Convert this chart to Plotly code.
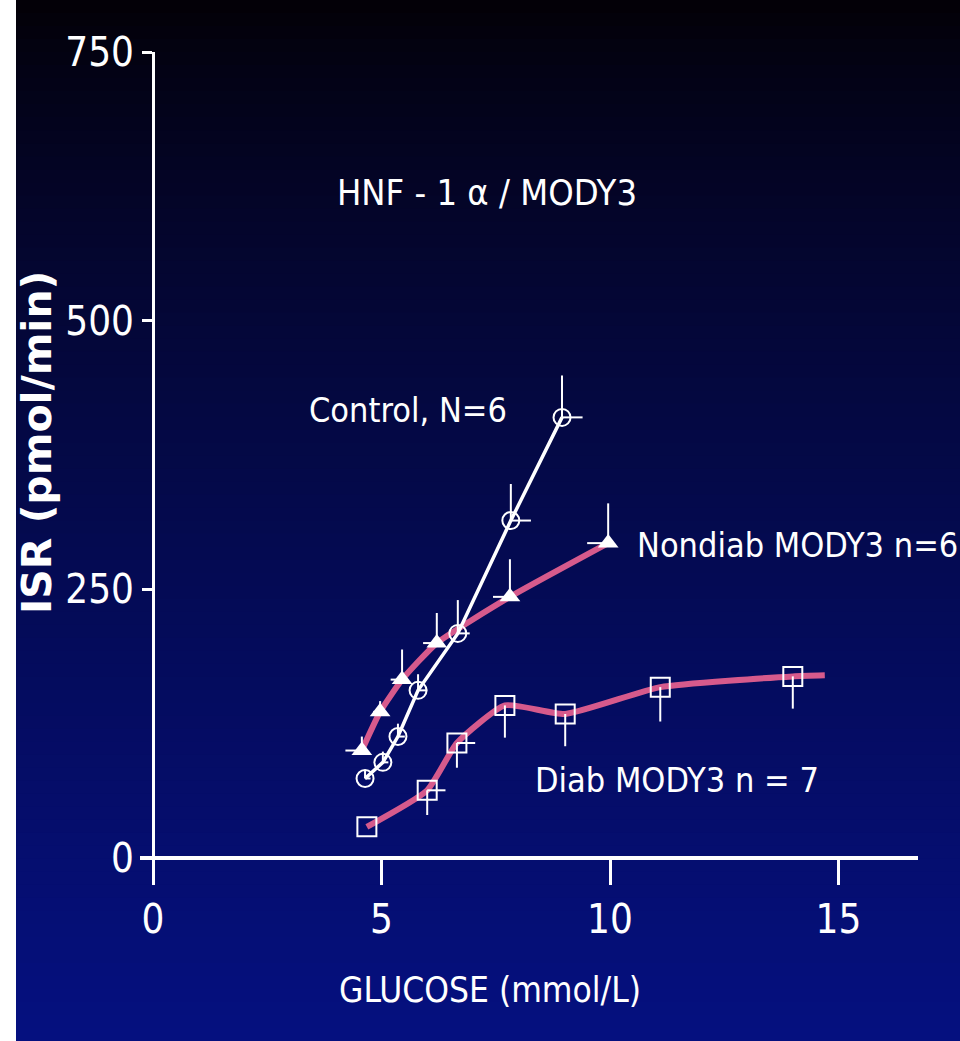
import plotly.graph_objects as go

# ---------------- data ----------------
control_x = [4.64, 5.03, 5.36, 5.80, 6.67, 7.83, 8.95]
control_y = [74, 89, 113, 156, 209, 314, 410]
control_err_up = [8, 10, 12, 15, 31, 34, 39]
control_err_right = [0.12, 0.12, 0.15, 0.20, 0.26, 0.44, 0.45]

nondiab_x = [4.57, 4.97, 5.45, 6.21, 7.81, 9.96]
nondiab_y = [100, 136, 166, 200, 243, 293]
nondiab_err_up = [13, 10, 28, 28, 35, 37]
nondiab_err_left = [0.36, 0.15, 0.25, 0.30, 0.37, 0.46]

diab_x = [4.68, 6.00, 6.65, 7.70, 9.02, 11.10, 14.00]
diab_y = [29, 63, 107, 142, 134, 159, 169]
diab_err_down = [0, 23, 23, 30, 30, 32, 30]
diab_err_right = [0, 0.40, 0.40, 0, 0, 0, 0]
diab_curve_end_x = [14.7]
diab_curve_end_y = [170]

x_ticks = [0, 5, 10, 15]
y_ticks = [0, 250, 500, 750]

title_text = "HNF - 1 \u03b1 / MODY3"
label_control = "Control, N=6"
label_nondiab = "Nondiab MODY3 n=6"
label_diab = "Diab MODY3 n = 7"
x_title = "GLUCOSE (mmol/L)"
y_title = "ISR (pmol/min)"

# ---------------- styling ----------------
W, H = 960, 1041
NARROW = "DejaVu Sans Condensed, Liberation Sans Narrow, sans-serif"
PINK = "#d65a8c"
WHITE = "#ffffff"

fig = go.Figure()

# pink lines (drawn first, below control)
fig.add_trace(go.Scatter(
    x=diab_x + diab_curve_end_x, y=diab_y + diab_curve_end_y,
    mode="lines", line=dict(color=PINK, width=6, shape="spline", smoothing=0.5),
    hoverinfo="skip", showlegend=False))
fig.add_trace(go.Scatter(
    x=nondiab_x, y=nondiab_y,
    mode="lines", line=dict(color=PINK, width=6, shape="spline", smoothing=0.5),
    hoverinfo="skip", showlegend=False))

# control line + open circles
fig.add_trace(go.Scatter(
    x=control_x, y=control_y, mode="lines+markers",
    line=dict(color=WHITE, width=3.5),
    marker=dict(symbol="circle-open", size=17, color=WHITE, line=dict(width=2, color=WHITE)),
    error_y=dict(type="data", symmetric=False, array=control_err_up,
                 arrayminus=[0] * len(control_y), color=WHITE, thickness=2, width=0),
    error_x=dict(type="data", symmetric=False, array=control_err_right,
                 arrayminus=[0] * len(control_x), color=WHITE, thickness=2, width=0),
    showlegend=False))

# nondiab triangles
fig.add_trace(go.Scatter(
    x=nondiab_x, y=nondiab_y, mode="markers",
    marker=dict(symbol="triangle-up", size=18, color=WHITE, line=dict(width=0)),
    error_y=dict(type="data", symmetric=False, array=nondiab_err_up,
                 arrayminus=[0] * len(nondiab_y), color=WHITE, thickness=2, width=0),
    error_x=dict(type="data", symmetric=False, array=[0] * len(nondiab_x),
                 arrayminus=nondiab_err_left, color=WHITE, thickness=2, width=0),
    showlegend=False))

# diab open squares
fig.add_trace(go.Scatter(
    x=diab_x, y=diab_y, mode="markers",
    marker=dict(symbol="square-open", size=19, color=WHITE, line=dict(width=2, color=WHITE)),
    error_y=dict(type="data", symmetric=False, array=[0] * len(diab_y),
                 arrayminus=diab_err_down, color=WHITE, thickness=2, width=0),
    error_x=dict(type="data", symmetric=False, array=diab_err_right,
                 arrayminus=[0] * len(diab_x), color=WHITE, thickness=2, width=0),
    showlegend=False))

# ---------------- background gradient (black top -> dark blue bottom) ----------------
shapes = []
N = 80
top = (3, 0, 4)
bot = (5, 16, 128)
for i in range(N):
    s = 1 - (i + 0.5) / N  # 0 at top, 1 at bottom
    f = s ** 0.75
    c = tuple(int(round(top[k] + (bot[k] - top[k]) * f)) for k in range(3))
    shapes.append(dict(type="rect", xref="paper", yref="paper",
                       x0=0, x1=1, y0=i / N, y1=(i + 1) / N + 0.002,
                       fillcolor="rgb(%d,%d,%d)" % c, line=dict(width=0), layer="below"))
# white strip at the left edge
shapes.append(dict(type="rect", xref="paper", yref="paper", x0=0, x1=16 / W, y0=0, y1=1,
                   fillcolor="white", line=dict(width=0), layer="below"))

# ---------------- axes ----------------
px_x0, px_per_x = 153, 45.7
px_y0, px_per_y = 858, 1.0747
dom_x = [140 / W, 918 / W]
dom_y = [(H - 870) / H, (H - 52) / H]
x_range = [(140 - px_x0) / px_per_x, (918 - px_x0) / px_per_x]
y_range = [-(870 - px_y0) / px_per_y, 750]

fig.update_layout(
    width=W, height=H,
    margin=dict(l=0, r=0, t=0, b=0, pad=0, autoexpand=False),
    paper_bgcolor="rgb(5,16,128)",
    plot_bgcolor="rgba(0,0,0,0)",
    shapes=shapes,
    showlegend=False,
    xaxis=dict(domain=dom_x, range=x_range, anchor="free", position=(H - px_y0) / H,
               automargin=False,
               showgrid=False, zeroline=False, showline=True, linecolor=WHITE, linewidth=4,
               tickmode="array", tickvals=x_ticks, ticktext=[str(v) for v in x_ticks],
               ticks="outside", ticklen=25, tickwidth=3, tickcolor=WHITE,
               tickfont=dict(family=NARROW, size=40, color=WHITE)),
    yaxis=dict(domain=dom_y, range=y_range, anchor="free", position=px_x0 / W,
               automargin=False,
               showgrid=False, zeroline=False, showline=True, linecolor=WHITE, linewidth=3,
               tickmode="array", tickvals=y_ticks, ticktext=[str(v) for v in y_ticks],
               ticks="outside", ticklen=10, tickwidth=3, tickcolor=WHITE,
               tickfont=dict(family=NARROW, size=40, color=WHITE)),
    annotations=[
        dict(text=title_text, x=7.31, y=619, xref="x", yref="y", showarrow=False,
             xanchor="center", yanchor="middle", font=dict(family=NARROW, size=36, color=WHITE)),
        dict(text=label_control, x=5.58, y=417, xref="x", yref="y", showarrow=False,
             xanchor="center", yanchor="middle", font=dict(family=NARROW, size=34, color=WHITE)),
        dict(text=label_nondiab, x=10.55, y=291, xref="x", yref="y", showarrow=False,
             xanchor="left", yanchor="middle", font=dict(family=NARROW, size=34, color=WHITE)),
        dict(text=label_diab, x=11.47, y=73, xref="x", yref="y", showarrow=False,
             xanchor="center", yanchor="middle", font=dict(family=NARROW, size=34, color=WHITE)),
        dict(text=x_title, x=490 / W, y=(H - 990) / H, xref="paper", yref="paper", showarrow=False,
             xanchor="center", yanchor="middle", font=dict(family=NARROW, size=35, color=WHITE)),
        dict(text="<b>" + y_title + "</b>", x=37 / W, y=(H - 443) / H, xref="paper", yref="paper",
             showarrow=False, textangle=-90, xanchor="center", yanchor="middle",
             font=dict(family="DejaVu Sans, Liberation Sans, sans-serif", size=41, color=WHITE)),
    ],
)

fig.write_html(
    "out.html",
    config={"displayModeBar": False},
    post_script="document.body.style.margin='0';document.body.style.overflow='hidden';",
)
